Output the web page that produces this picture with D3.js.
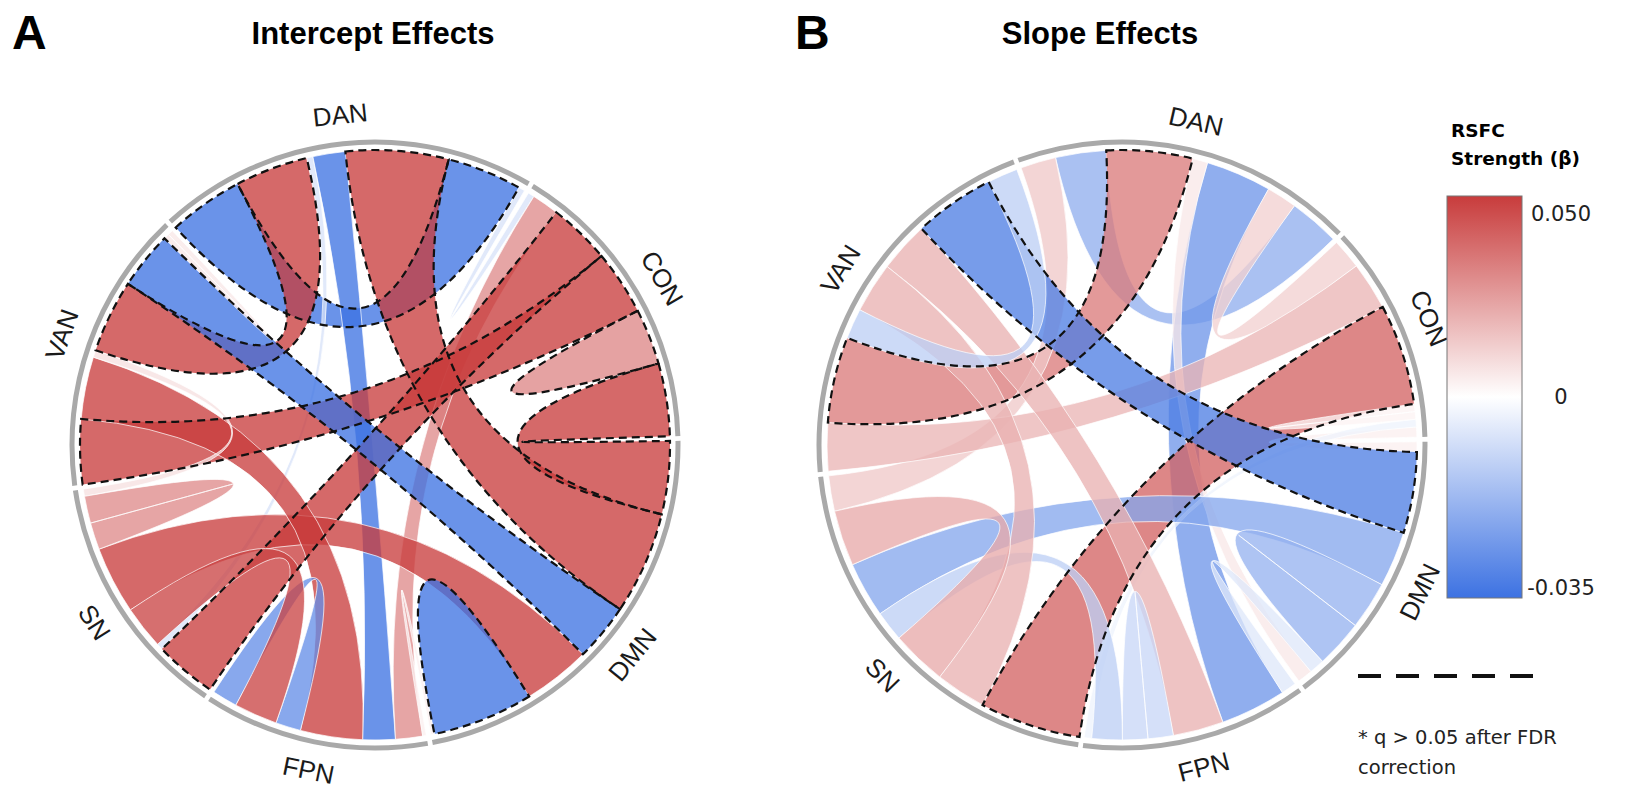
<!DOCTYPE html>
<html>
<head>
<meta charset="utf-8">
<script src="https://cdn.jsdelivr.net/npm/d3@7"></script>
<style>
  body { margin: 0; background: #fff; }
  svg { display: block; }
</style>
</head>
<body>
<svg id="chart" width="1640" height="807"></svg>
<script>
const networks = ["DAN", "CON", "DMN", "FPN", "SN", "VAN"];

// [network, network, beta, dashed outline]
const interceptLinks = [
  ["DAN", "DAN", -0.083, true],
  ["DAN", "VAN", 0.081, true],
  ["DAN", "SN", -0.007, false],
  ["DAN", "FPN", -0.036, false],
  ["DAN", "DMN", 0.114, true],
  ["DAN", "CON", -0.007, false],
  ["CON", "FPN", 0.030, false],
  ["CON", "SN", 0.069, true],
  ["CON", "VAN", 0.072, true],
  ["CON", "CON", 0.031, true],
  ["CON", "DMN", 0.081, true],
  ["DMN", "VAN", -0.064, true],
  ["DMN", "SN", 0.075, false],
  ["DMN", "DMN", -0.056, true],
  ["DMN", "FPN", 0.004, false],
  ["FPN", "VAN", 0.069, false],
  ["FPN", "FPN", -0.028, false],
  ["FPN", "SN", 0.048, false],
  ["SN", "VAN", 0.008, false],
  ["SN", "SN", 0.030, false],
  ["VAN", "VAN", 0.006, false]
];

// order of link ends around each sector (clockwise)
const interceptOrder = {
  DAN: ["DAN", "VAN", "SN", "FPN", "DMN", "DAN", "CON"],
  CON: ["DAN", "FPN", "SN", "VAN", "CON", "CON", "DMN"],
  DMN: ["CON", "DAN", "VAN", "SN", "DMN", "DMN", "FPN"],
  FPN: ["DMN", "CON", "DAN", "VAN", "FPN", "SN", "FPN"],
  SN:  ["CON", "DAN", "FPN", "DMN", "SN", "SN", "VAN"],
  VAN: ["CON", "FPN", "SN", "DAN", "DMN", "VAN", "VAN"]
};

const slopeLinks = [
  ["DAN", "DAN", -0.020, false],
  ["DAN", "VAN", 0.034, true],
  ["DAN", "FPN", -0.026, false],
  ["DAN", "CON", 0.012, false],
  ["DAN", "SN", 0.014, false],
  ["DAN", "DMN", 0.006, false],
  ["CON", "SN", 0.040, true],
  ["CON", "VAN", 0.019, false],
  ["CON", "DMN", 0.004, false],
  ["CON", "FPN", -0.003, false],
  ["CON", "CON", 0.003, false],
  ["DMN", "VAN", -0.032, true],
  ["DMN", "SN", -0.022, false],
  ["DMN", "DMN", -0.019, false],
  ["DMN", "FPN", -0.006, false],
  ["FPN", "VAN", 0.020, false],
  ["FPN", "FPN", -0.010, false],
  ["FPN", "SN", -0.012, false],
  ["SN", "VAN", 0.020, false],
  ["SN", "SN", 0.022, false],
  ["VAN", "VAN", -0.012, false]
];

const slopeOrder = {
  DAN: ["SN", "DAN", "VAN", "DMN", "FPN", "CON", "DAN"],
  CON: ["DAN", "VAN", "SN", "CON", "CON", "FPN", "DMN"],
  DMN: ["CON", "VAN", "SN", "DMN", "DMN", "FPN", "DAN"],
  FPN: ["DMN", "DAN", "VAN", "FPN", "FPN", "SN", "CON"],
  SN:  ["CON", "VAN", "SN", "FPN", "DMN", "SN", "DAN"],
  VAN: ["CON", "DAN", "VAN", "SN", "FPN", "DMN", "VAN"]
};

const legendTicks = [0.05, 0, -0.035];
const legendTickLabels = ["0.050", "0", "-0.035"];

const svg = d3.select("#chart");
const deg = Math.PI / 180;

const color = d3.scaleLinear()
  .domain([-0.035, 0, 0.05])
  .range(["#3d72e2", "#ffffff", "#c83c3c"])
  .clamp(true);

const ringInner = 300.5, ringOuter = 305.5, linkRadius = 295, labelRadius = 332;

function layout(links, order, startDeg, padDeg) {
  const pad = padDeg * deg;
  const total = d3.sum(links, d => 2 * Math.abs(d[2]));
  const k = (2 * Math.PI - networks.length * pad) / total;
  const ends = links.map(() => ({}));
  const groups = [];
  let a = startDeg * deg;
  networks.forEach(g => {
    const g0 = a;
    order[g].forEach(p => {
      const i = links.findIndex(l => (l[0] === g && l[1] === p) || (l[0] === p && l[1] === g));
      const w = Math.abs(links[i][2]) * k;
      const end = { startAngle: a, endAngle: a + w };
      if (links[i][0] === g && !ends[i].source) ends[i].source = end;
      else ends[i].target = end;
      a += w;
    });
    groups.push({ name: g, startAngle: g0, endAngle: a });
    a += pad;
  });
  return { ends, groups };
}

// a self link whose two ends touch is drawn as one fan (no spike in the middle)
function isFan(e) {
  return Math.abs(e.source.endAngle - e.target.startAngle) < 1e-9;
}
function fanPath(a0, a1, r) {
  const p = d3.path();
  p.moveTo(r * Math.sin(a0), -r * Math.cos(a0));
  p.arc(0, 0, r, a0 - Math.PI / 2, a1 - Math.PI / 2);
  p.quadraticCurveTo(0, 0, r * Math.sin(a0), -r * Math.cos(a0));
  p.closePath();
  return p.toString();
}

function drawPanel(cx, cy, links, order, startDeg) {
  const lay = layout(links, order, startDeg, 0.9);
  const g = svg.append("g").attr("transform", "translate(" + cx + "," + cy + ")");

  const ribbon = d3.ribbon().radius(linkRadius);
  const linkPath = (d, i) => {
    const e = lay.ends[i];
    if (d[3] && isFan(e)) return fanPath(e.source.startAngle, e.target.endAngle, linkRadius);
    return ribbon(e);
  };

  g.selectAll("path.link")
    .data(links)
    .join("path")
    .attr("class", "link")
    .attr("d", linkPath)
    .attr("fill", d => color(d[2]))
    .attr("fill-opacity", 0.77)
    .attr("stroke", d => d[3] ? "none" : "#fff")
    .attr("stroke-width", 1)
    .attr("stroke-opacity", 0.7);

  // dashed outline on top
  g.selectAll("path.sig")
    .data(links.filter(d => d[3]))
    .join("path")
    .attr("class", "sig")
    .attr("d", d => linkPath(d, links.indexOf(d)))
    .attr("fill", "none")
    .attr("stroke", "#111")
    .attr("stroke-width", 2.2)
    .attr("stroke-dasharray", "8,5");

  const arc = d3.arc().innerRadius(ringInner).outerRadius(ringOuter);
  g.selectAll("path.ring")
    .data(lay.groups)
    .join("path")
    .attr("class", "ring")
    .attr("d", arc)
    .attr("fill", "#a9a9a9");

  g.selectAll("text.lab")
    .data(lay.groups)
    .join("text")
    .attr("class", "lab")
    .attr("transform", d => {
      const a = (d.startAngle + d.endAngle) / 2;
      const x = labelRadius * Math.sin(a), y = -labelRadius * Math.cos(a);
      let r = a / deg;
      r = ((r % 360) + 360) % 360;
      const rot = (r > 90 && r < 270) ? r - 180 : (r >= 270 ? r - 360 : r);
      return "translate(" + x + "," + y + ") rotate(" + rot + ")";
    })
    .attr("text-anchor", "middle")
    .attr("dominant-baseline", "central")
    .style("font-family", "'Liberation Sans', Arial, sans-serif")
    .style("font-size", "26px")
    .style("fill", "#1a1a1a")
    .text(d => d.name);
}

drawPanel(375, 445, interceptLinks, interceptOrder, -42.5);
drawPanel(1122, 445, slopeLinks, slopeOrder, -20);

// titles
const titleFont = "'Liberation Sans', Arial, sans-serif";
svg.append("text").attr("x", 12).attr("y", 49).text("A")
  .style("font-family", titleFont).style("font-weight", "bold").style("font-size", "48px");
svg.append("text").attr("x", 373).attr("y", 44).attr("text-anchor", "middle").text("Intercept Effects")
  .style("font-family", titleFont).style("font-weight", "bold").style("font-size", "31px");
svg.append("text").attr("x", 795).attr("y", 49).text("B")
  .style("font-family", titleFont).style("font-weight", "bold").style("font-size", "48px");
svg.append("text").attr("x", 1100).attr("y", 44).attr("text-anchor", "middle").text("Slope Effects")
  .style("font-family", titleFont).style("font-weight", "bold").style("font-size", "31px");

// colour legend
const legFont = "'DejaVu Sans', Verdana, sans-serif";
const barX = 1447, barW = 75, barTop = 196, barBottom = 598;
const defs = svg.append("defs");
const grad = defs.append("linearGradient").attr("id", "rsfc")
  .attr("x1", 0).attr("y1", 0).attr("x2", 0).attr("y2", 1);
[[0, 0.05], [0.5, 0], [1, -0.035]].forEach(s => {
  grad.append("stop").attr("offset", s[0]).attr("stop-color", color(s[1]));
});

svg.append("text").attr("x", 1451).attr("y", 137).text("RSFC")
  .style("font-family", legFont).style("font-weight", "bold").style("font-size", "18.5px");
svg.append("text").attr("x", 1451).attr("y", 165).text("Strength (β)")
  .style("font-family", legFont).style("font-weight", "bold").style("font-size", "18.5px");

svg.append("rect").attr("x", barX).attr("y", barTop).attr("width", barW).attr("height", barBottom - barTop)
  .attr("fill", "url(#rsfc)").attr("stroke", "#777").attr("stroke-width", 1);

const legY = d3.scaleLinear().domain([-0.035, 0, 0.05]).range([588, 397, 214]);
svg.selectAll("text.tick")
  .data(legendTicks)
  .join("text")
  .attr("class", "tick")
  .attr("x", 1561)
  .attr("y", d => legY(d))
  .attr("text-anchor", "middle")
  .attr("dominant-baseline", "central")
  .style("font-family", legFont)
  .style("font-size", "21px")
  .style("fill", "#222")
  .text((d, i) => legendTickLabels[i]);

svg.append("line").attr("x1", 1358).attr("x2", 1533).attr("y1", 676).attr("y2", 676)
  .attr("stroke", "#111").attr("stroke-width", 4).attr("stroke-dasharray", "23,15");

svg.append("text").attr("x", 1358).attr("y", 744).text("* q > 0.05 after FDR")
  .style("font-family", legFont).style("font-size", "19.5px").style("fill", "#222");
svg.append("text").attr("x", 1358).attr("y", 774).text("correction")
  .style("font-family", legFont).style("font-size", "19.5px").style("fill", "#222");
</script>
</body>
</html>
